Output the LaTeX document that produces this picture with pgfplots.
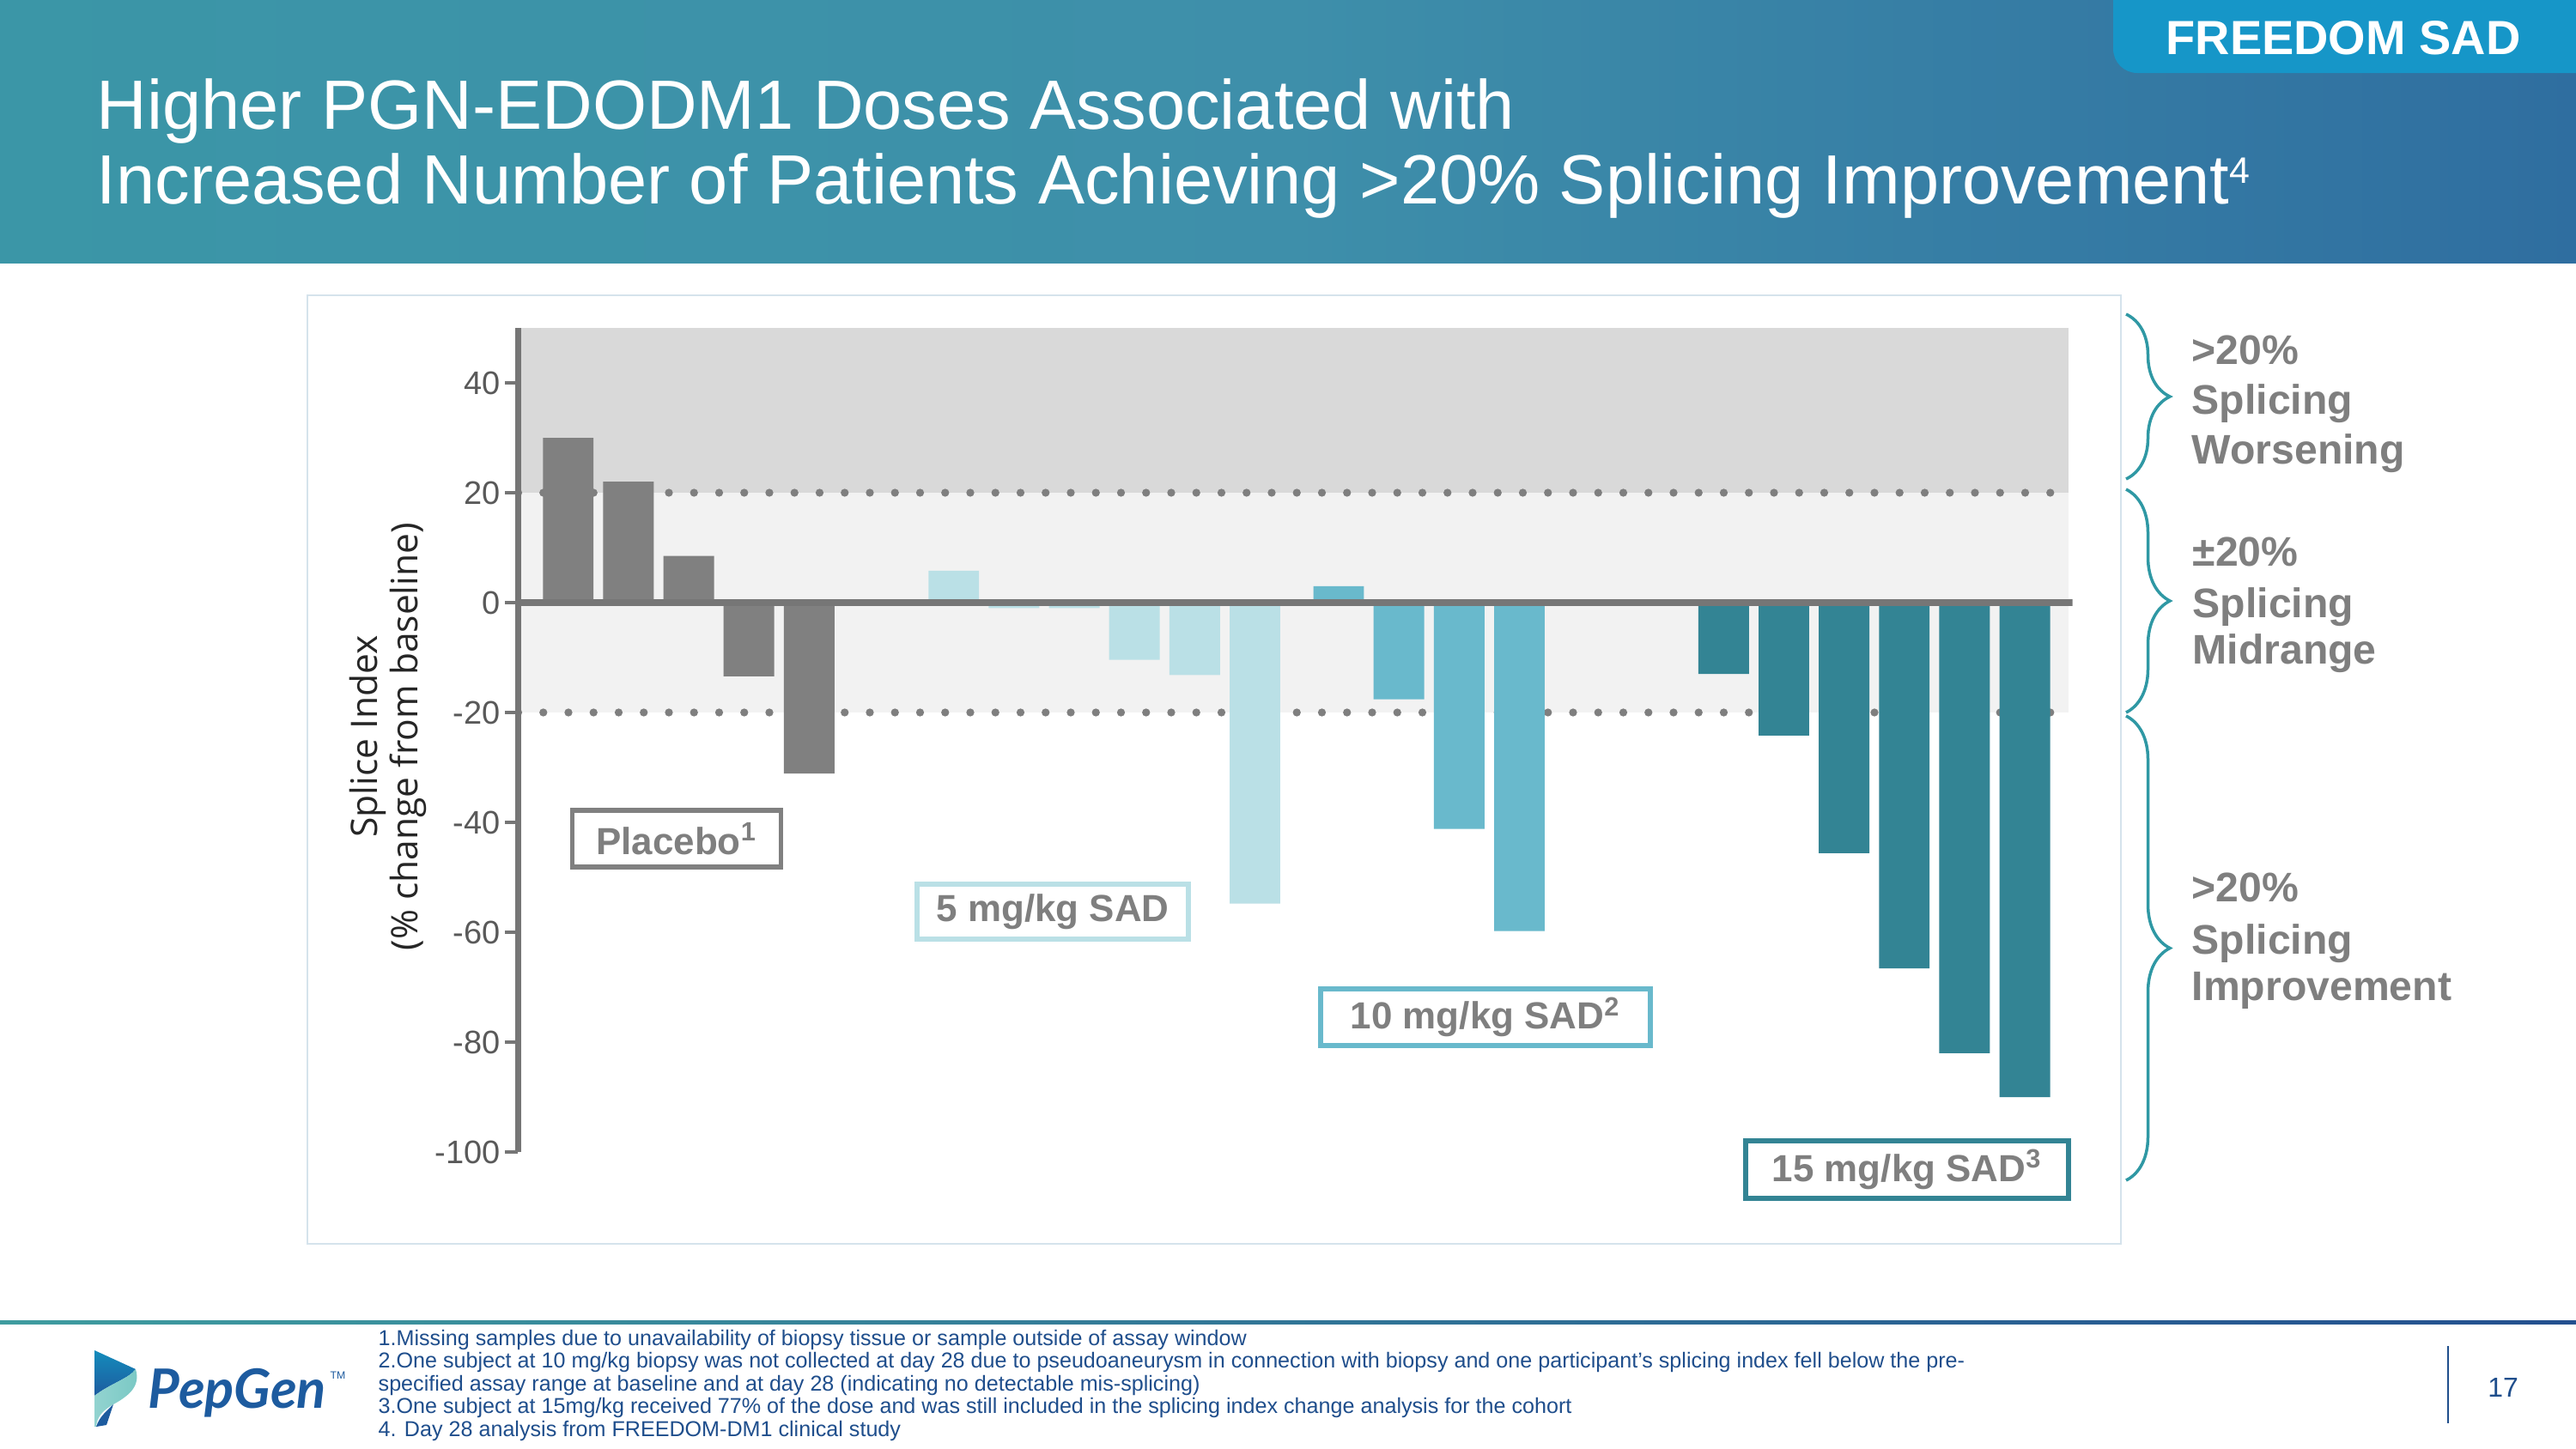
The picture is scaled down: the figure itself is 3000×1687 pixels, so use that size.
\documentclass[border=0pt]{standalone}
\usepackage{fontspec}
\setmainfont{Liberation Sans}
\newfontfamily\opensans{Open Sans}
\newfontfamily\latofont{Lato}
\usepackage{pgfplots}
\pgfplotsset{compat=1.18}
\usetikzlibrary{decorations.pathreplacing}

\definecolor{hdrL}{RGB}{59,150,167}
\definecolor{hdrM}{RGB}{62,143,170}
\definecolor{hdrR}{RGB}{47,110,160}
\definecolor{tabcol}{RGB}{22,150,200}
\definecolor{cPlacebo}{RGB}{128,128,128}
\definecolor{c5}{RGB}{186,224,230}
\definecolor{c10}{RGB}{105,185,204}
\definecolor{c15}{RGB}{51,132,148}
\definecolor{banddark}{RGB}{217,217,217}
\definecolor{bandlight}{RGB}{242,242,242}
\definecolor{axisgray}{RGB}{118,118,118}
\definecolor{tickgray}{RGB}{89,89,89}
\definecolor{textgray}{RGB}{127,127,127}
\definecolor{bracecol}{RGB}{47,152,164}
\definecolor{framecol}{RGB}{213,227,236}
\definecolor{navy}{RGB}{31,78,140}
\definecolor{footL}{RGB}{63,156,159}
\definecolor{footR}{RGB}{36,80,143}
\definecolor{logoblue}{RGB}{29,91,159}
\definecolor{logoteal}{RGB}{120,200,196}

\begin{document}
\begin{tikzpicture}
\begin{scope}[x=0.1mm,y=-0.1mm]
\useasboundingbox (0,0) rectangle (3000,1687);
\fill[white] (0,0) rectangle (3000,1687);
% header band
\shade[left color=hdrL, right color=hdrR, middle color=hdrM] (0,0) rectangle (3000,306);
% tab
\fill[tabcol, rounded corners=2.8mm] (2461,-40) rectangle (3060,85);
\node[anchor=base, text=white, inner sep=0, font=\bfseries\fontsize{15.9pt}{18pt}\selectfont] at (2729,63) {FREEDOM SAD};
% title
\node[anchor=base west, text=white, inner sep=0, font=\fontsize{23.1pt}{26pt}\selectfont] at (112,150) {Higher PGN-EDODM1 Doses Associated with};
\node[anchor=base west, text=white, inner sep=0, font=\fontsize{23.1pt}{26pt}\selectfont] at (112,237) {Increased Number of Patients Achieving >20\% Splicing Improvement\raisebox{2.4mm}{\fontsize{12.2pt}{13pt}\selectfont 4}};
% chart frame
\fill[white] (358,344) rectangle (2470,1449);
\draw[framecol, line width=0.2mm] (358,344) rectangle (2470,1449);
\end{scope}

\begin{axis}[
  at={(6.035cm,-13.42cm)}, anchor=south west,
  scale only axis, width=181mm, height=96mm,
  xmin=-0.83, xmax=24.97, ymin=-100, ymax=50,
  axis x line=none, axis y line=left,
  xtick=\empty,
  ytick={-100,-80,-60,-40,-20,0,20,40},
  y axis line style={-, draw=axisgray, line width=0.7mm},
  ytick style={draw=axisgray, line width=0.45mm},
  tick align=outside, major tick length=1.5mm,
  /pgf/number format/assume math mode=true,
  yticklabel style={font=\fontsize{10.8pt}{12pt}\selectfont, text=tickgray, inner sep=1.5pt},
  axis on top,
]
\fill[banddark] (axis cs:-0.83,20) rectangle (axis cs:24.91,50);
\fill[bandlight] (axis cs:-0.83,-20) rectangle (axis cs:24.91,20);
\draw[textgray, line width=0.93mm, line cap=round, dash pattern=on 0pt off 2.925mm] (axis cs:-0.83,20) -- (axis cs:24.97,20);
\draw[textgray, line width=0.93mm, line cap=round, dash pattern=on 0pt off 2.925mm] (axis cs:-0.83,-20) -- (axis cs:24.97,-20);
\addplot[ybar, bar width=0.84, bar shift=0pt, fill=cPlacebo, draw=none] coordinates {(0,30) (1,22) (2,8.5) (3,-13.4) (4,-31.1)};
\addplot[ybar, bar width=0.84, bar shift=0pt, fill=c5, draw=none] coordinates {(6.4,5.8) (7.4,-1.0) (8.4,-1.0) (9.4,-10.4) (10.4,-13.2) (11.4,-54.8)};
\addplot[ybar, bar width=0.84, bar shift=0pt, fill=c10, draw=none] coordinates {(12.79,3.0) (13.79,-17.6) (14.79,-41.2) (15.79,-59.8)};
\addplot[ybar, bar width=0.84, bar shift=0pt, fill=c15, draw=none] coordinates {(19.18,-13.0) (20.18,-24.2) (21.18,-45.6) (22.18,-66.6) (23.18,-82.0) (24.18,-90.0)};
\draw[axisgray, line width=0.75mm] (axis cs:-0.83,0) -- (axis cs:24.97,0);
\end{axis}

\begin{scope}[x=0.1mm,y=-0.1mm]
% y label
\node[rotate=90, align=center, text=black!85, font=\opensans\fontsize{12.1pt}{13.2pt}\selectfont] at (452,858) {Splice Index\\(\% change from baseline)};

% group boxes
\node[draw=cPlacebo, line width=1.6pt, minimum width=24.3mm, minimum height=6.6mm, inner sep=0, text=textgray, font=\bfseries\fontsize{12.5pt}{14pt}\selectfont] at (788,977) {Placebo\textsuperscript{1}};
\node[draw=c5, line width=1.6pt, minimum width=31.6mm, minimum height=6.45mm, inner sep=0, text=textgray, font=\bfseries\fontsize{12.5pt}{14pt}\selectfont] at (1226,1062) {5 mg/kg SAD};
\node[draw=c10, line width=1.6pt, minimum width=38.4mm, minimum height=6.6mm, inner sep=0, text=textgray, font=\bfseries\fontsize{12.5pt}{14pt}\selectfont] at (1730,1185) {10 mg/kg SAD\textsuperscript{2}};
\node[draw=c15, line width=1.6pt, minimum width=37.6mm, minimum height=6.65mm, inner sep=0, text=textgray, font=\bfseries\fontsize{12.5pt}{14pt}\selectfont] at (2221,1362.5) {15 mg/kg SAD\textsuperscript{3}};

% braces
\draw[bracecol, line width=0.35mm, decorate, decoration={brace, amplitude=5.1mm}] (2476,366) -- (2476,558);
\draw[bracecol, line width=0.35mm, decorate, decoration={brace, amplitude=5.1mm}] (2476,570) -- (2476,830);
\draw[bracecol, line width=0.35mm, decorate, decoration={brace, amplitude=5.1mm}] (2476,834) -- (2476,1375);
\begin{scope}[every node/.style={anchor=base west, inner sep=0, text=textgray, font=\bfseries\fontsize{13.7pt}{16pt}\selectfont}]
\node at (2552,424) {>20\%};
\node at (2552,482) {Splicing};
\node at (2552,540) {Worsening};
\node at (2553,659) {±20\%};
\node at (2553,719) {Splicing};
\node at (2553,773) {Midrange};
\node at (2552,1050) {>20\%};
\node at (2552,1111) {Splicing};
\node at (2552,1165) {Improvement};
\end{scope}

% footer
\shade[left color=footL, right color=footR] (0,1538) rectangle (3000,1542);
\begin{scope}[every node/.style={anchor=base west, inner sep=0, text=navy, font=\fontsize{7.15pt}{8pt}\selectfont}]
\node at (440,1567) {1.Missing samples due to unavailability of biopsy tissue or sample outside of assay window};
\node at (440,1593.5) {2.One subject at 10 mg/kg biopsy was not collected at day 28 due to pseudoaneurysm in connection with biopsy and one participant’s splicing index fell below the pre-};
\node at (440,1620) {specified assay range at baseline and at day 28 (indicating no detectable mis-splicing)};
\node at (440,1646.5) {3.One subject at 15mg/kg received 77\% of the dose and was still included in the splicing index change analysis for the cohort};
\node at (440,1673) {4. Day 28 analysis from FREEDOM-DM1 clinical study};
\end{scope}
\draw[navy, line width=0.2mm] (2851,1568) -- (2851,1658);
\node[anchor=base, inner sep=0, text=navy, font=\fontsize{9.1pt}{10pt}\selectfont] at (2915,1627) {17};

% logo
\shade[top color=logoblue!70!cyan, bottom color=logoblue] (110,1573) -- (158,1595) .. controls (150,1606) and (128,1612) .. (110,1626) -- cycle;
\shade[left color=logoteal!80!white, right color=logoteal] (158,1595) .. controls (164,1615) and (150,1626) .. (132,1636) .. controls (120,1643) and (113,1650) .. (112,1662) -- (110,1662) -- (110,1626) .. controls (128,1612) and (150,1606) .. (158,1595) -- cycle;
\fill[logoblue] (112,1662) .. controls (116,1650) and (124,1644) .. (132,1636) -- (124,1660) -- cycle;
\node[anchor=base west, inner sep=0, text=logoblue, font=\latofont\bfseries\itshape\fontsize{18pt}{20pt}\selectfont] at (172,1640) {PepGen};
\node[anchor=base west, inner sep=0, text=logoblue, font=\fontsize{3.5pt}{4pt}\selectfont] at (384,1606) {TM};
\end{scope}
\end{tikzpicture}
\end{document}
